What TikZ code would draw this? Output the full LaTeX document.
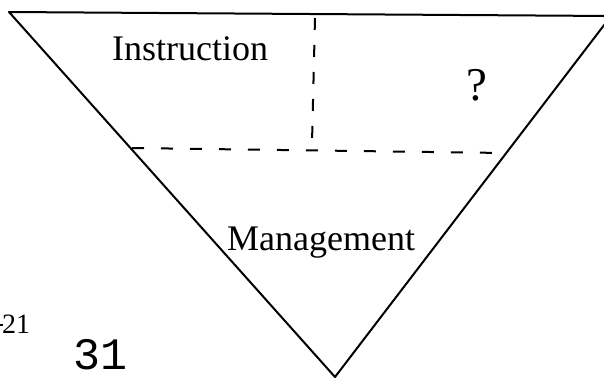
\documentclass[tikz,border=0pt]{standalone}
\usepackage{fontspec}
\setmainfont{Liberation Serif}
\newfontfamily\monofam{Liberation Mono}
\begin{document}
\begin{tikzpicture}[x=1pt,y=-1pt,
  edge/.style={line width=2pt,line join=round},
  divider/.style={line width=2pt,dash pattern=on 12pt off 17pt},
  lbl/.style={anchor=base west,inner sep=0pt,font=\fontsize{36}{40}\selectfont},
  big/.style={anchor=base west,inner sep=0pt,font=\fontsize{47}{50}\selectfont},
  pagenum/.style={anchor=base west,inner sep=0pt,font=\fontsize{28}{30}\selectfont},
  stamp/.style={anchor=base west,inner sep=0pt,text depth=0pt,font=\monofam\fontsize{45}{47}\selectfont}]
\useasboundingbox (0,0) rectangle (604,378);
\clip (0,0) rectangle (604,378);
\coordinate (tl) at (9,12);
\coordinate (tr) at (611,16);
\coordinate (bot) at (335,377);
\coordinate (hl) at (132,148);
\coordinate (hr) at (505,153);
\coordinate (vt) at (315,18);
\coordinate (vb) at (312,143);
\draw[edge] (tl) -- (tr) -- (bot) -- cycle;
\draw[divider] (hl) -- (hr);
\draw[divider,dash pattern=on 12pt off 15pt] (vt) -- (vb);
\node[lbl] (instr) at (112,60) {Instruction};
\node[lbl] (mgmt) at (227,250) {Management};
\node[big] (q) at (466,100) {?};
\coordinate (da) at (0,325);
\coordinate (db) at (2.5,325);
\draw[line width=1.6pt] (da) -- (db);
\node[pagenum] (pn) at (2,333) {21};
\node[stamp] (st) at (73,369) {31};
\end{tikzpicture}
\end{document}
